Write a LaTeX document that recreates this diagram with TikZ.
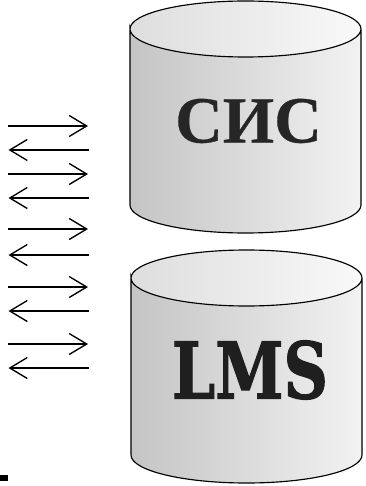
\documentclass[tikz,border=0pt]{standalone}
\usepackage{fontspec}
\usetikzlibrary{arrows.meta}
\setmainfont{Liberation Serif}
\newfontfamily\slabfont[FakeBold=1.6]{DejaVu Serif Bold}
\newfontfamily\sisfont[FakeBold=0.5]{Liberation Serif Bold}
\tikzset{
  wire/.style={line width=1.2pt,black,-{Straight Barb[length=17.5pt,width=21pt,line width=1.35pt]}},
  body/.style={left color=black!23,right color=black!5,draw=none},
  lid/.style={left color=black!13,right color=black!2.5,draw=none},
  rim/.style={draw=black,line width=1.15pt},
  sislabel/.style={text=black!85,inner sep=0pt,font=\fontsize{66}{66}\selectfont\sisfont},
  lmslabel/.style={text=black!88,inner sep=0pt,xscale=.79,transform shape,font=\fontsize{78}{78}\selectfont\slabfont}
}
\newcommand{\drum}[5]{% left, right, ytop-centre, ybottom-centre, ry
  \path[body] (#1,#3) -- (#1,#4) arc[start angle=180,end angle=0,x radius={(#2-#1)/2},y radius=#5] -- (#2,#3) -- cycle;
  \path[lid] (#1,#3) arc[start angle=180,end angle=540,x radius={(#2-#1)/2},y radius=#5];
  \draw[rim] (#1,#4) -- (#1,#3) arc[start angle=180,end angle=-180,x radius={(#2-#1)/2},y radius=#5] (#2,#3) -- (#2,#4) arc[start angle=0,end angle=180,x radius={(#2-#1)/2},y radius=#5];
}
\begin{document}
\begin{tikzpicture}[x=1pt,y=-1pt]
\useasboundingbox (0,0) rectangle (365,486);
\fill[white] (0,0) rectangle (365,486);
\drum{130}{361}{29}{205}{28}
\drum{131}{362}{278}{455}{28}
\node[sislabel] (sis) at (248.5,121) {СИС};
\node[lmslabel] (lms) at (250,370) {LMS};
\foreach \n/\y in {1/126,3/174,5/229,7/287,9/344}{
  \coordinate (a\n) at (8,\y);
  \coordinate (b\n) at (88,\y);
  \draw[wire] (a\n) -- (b\n);
}
\foreach \n/\y in {2/150,4/198,6/255,8/311,10/368}{
  \coordinate (a\n) at (88.5,\y);
  \coordinate (b\n) at (8.5,\y);
  \draw[wire] (a\n) -- (b\n);
}
\fill[black] (0,474.5) rectangle (7.5,481);
\end{tikzpicture}
\end{document}
